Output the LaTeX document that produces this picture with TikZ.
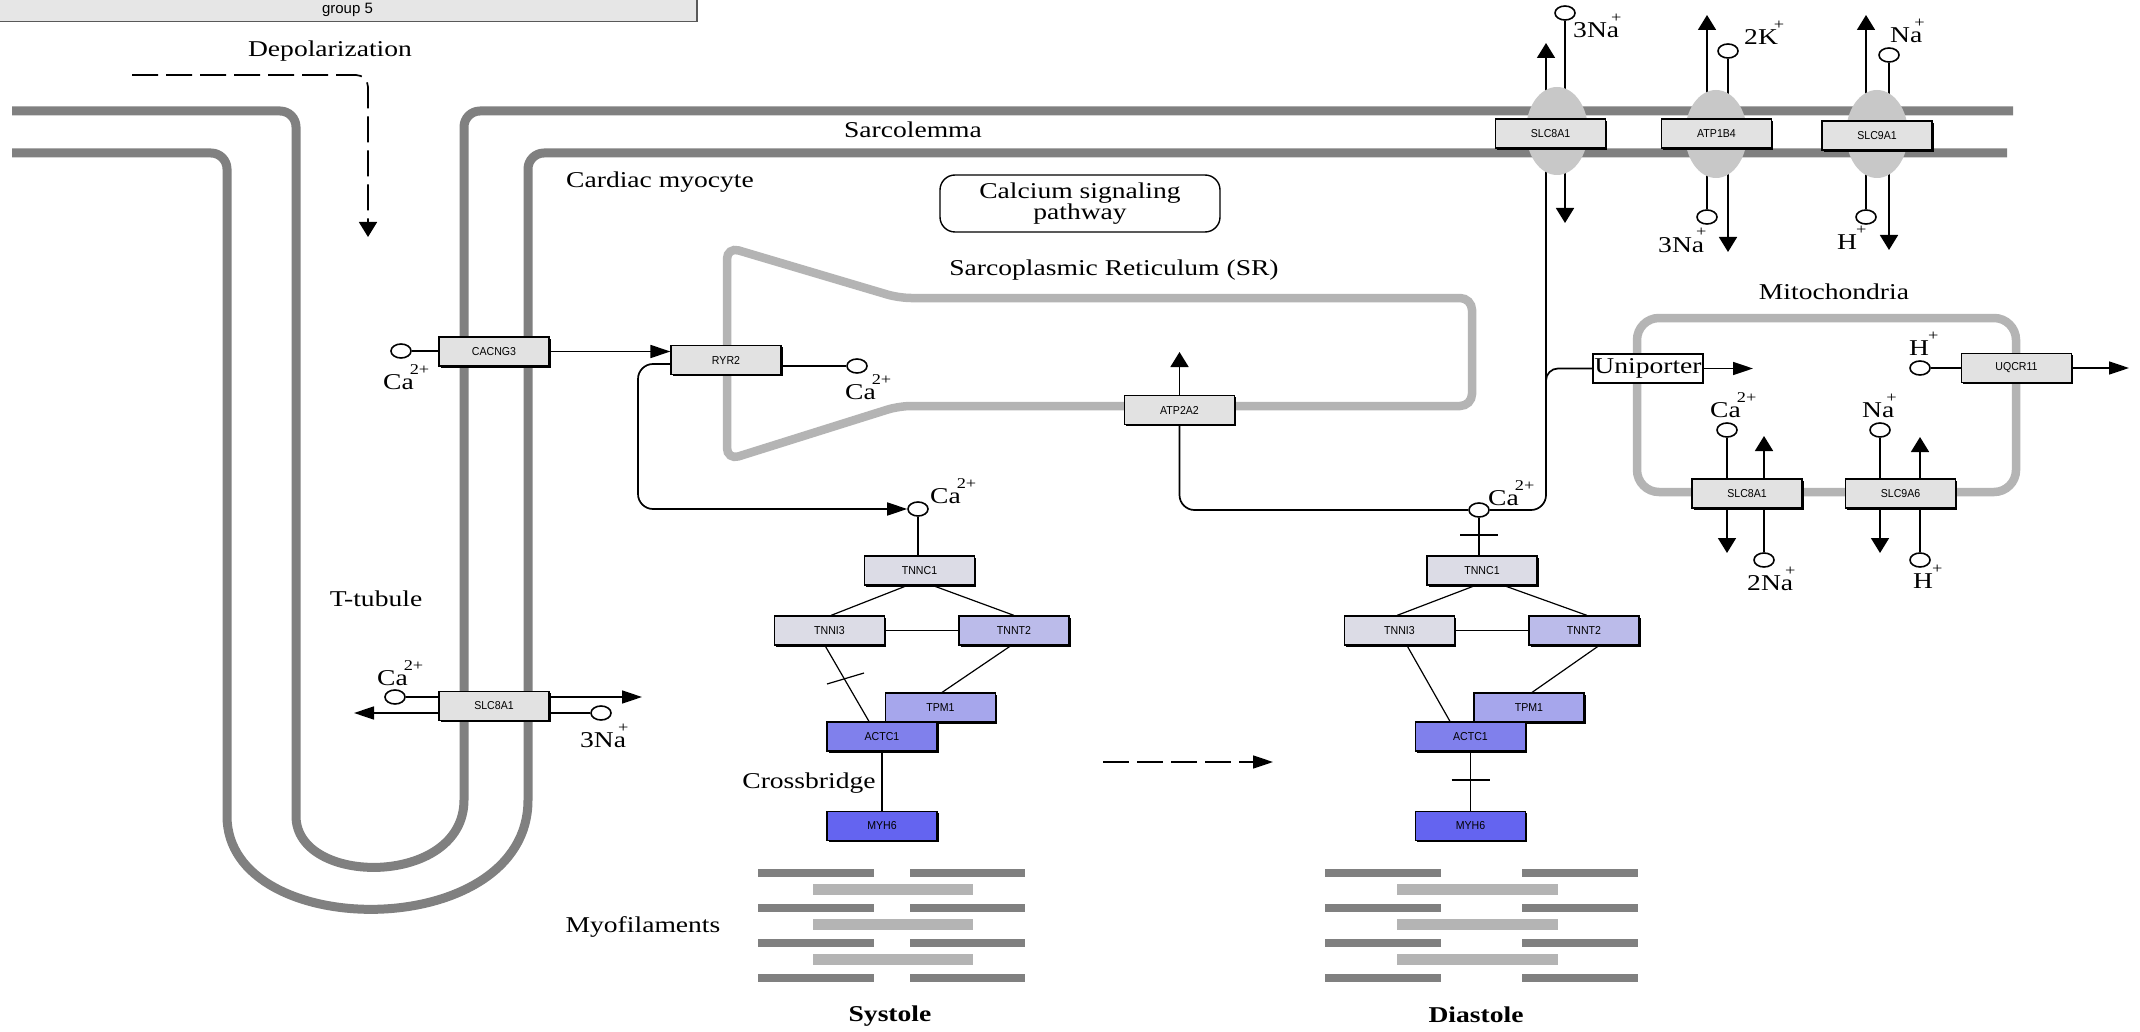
\documentclass[tikz,border=0pt]{standalone}
\usepackage{fontspec}
\setmainfont{Liberation Serif}
\newfontfamily\lblfont[FakeStretch=1.22]{Liberation Serif}
\newfontfamily\genefont[FakeStretch=0.92]{Liberation Sans}
\newfontfamily\hdrfont{Liberation Sans}
\usetikzlibrary{arrows.meta,shapes.geometric,shadows}
\pgfdeclarelayer{bg}
\pgfsetlayers{bg,main}
\definecolor{membr}{HTML}{808080}
\definecolor{srgray}{HTML}{B4B4B4}
\definecolor{ellgray}{HTML}{C8C8C8}
\definecolor{gfill}{HTML}{E2E2E2}
\definecolor{hdrfill}{HTML}{E6E6E6}
\definecolor{cTNNC}{HTML}{DCDCE6}
\definecolor{cTNNT}{HTML}{BBBBEA}
\definecolor{cTPM}{HTML}{A6A6EC}
\definecolor{cACTC}{HTML}{8080EC}
\definecolor{cMYH}{HTML}{6464F0}
\newcommand{\sps}[1]{\raisebox{15pt}{\fontsize{15}{15}\selectfont #1}}
\begin{document}
\begin{tikzpicture}[x=1pt,y=-1pt,
  conn/.style={draw=black,line width=1.7pt},
  tconn/.style={draw=black,line width=1.2pt},
  arrh/.style={-{Triangle[length=20pt,width=13pt]}},
  arrv/.style={-{Triangle[length=15pt,width=18pt]}},
  dashpat/.style={dash pattern=on 26pt off 8pt},
  memb/.style={draw=membr,line width=9pt},
  srline/.style={draw=srgray,line width=8.5pt},
  genebox/.style={draw=black,line width=1.2pt,fill=gfill,minimum width=110pt,minimum height=29pt,inner sep=0pt,
    font=\genefont\fontsize{11.5}{12}\selectfont,
    drop shadow={shadow xshift=1.6pt,shadow yshift=-1.6pt,fill=black,opacity=1}},
  unibox/.style={draw=black,line width=1.3pt,fill=white,minimum width=110pt,minimum height=29pt,inner sep=0pt,
    font=\lblfont\fontsize{22.6}{19}\selectfont},
  memell/.style={ellipse,fill=ellgray,minimum width=62pt,minimum height=88pt,inner sep=0pt},
  ion/.style={ellipse,draw=black,line width=1.6pt,fill=white,minimum width=20pt,minimum height=14pt,inner sep=0pt},
  lbl/.style={inner sep=0pt,font=\lblfont\fontsize{22.6}{19}\selectfont},
  hdr/.style={draw=black!65,line width=1.3pt,fill=hdrfill,minimum width=699pt,minimum height=23.7pt,inner sep=0pt,
    font=\hdrfont\fontsize{15}{15}\selectfont}
]
\begin{pgfonlayer}{bg}
\fill[white] (0,0) rectangle (2140,1032);
\end{pgfonlayer}
\useasboundingbox (0,0) rectangle (2140,1032);

% header
\node[hdr] (grp) at (347.5,9.85) {group 5};

% text labels
\node[lbl,anchor=base] (tDep) at (330,57) {Depolarization};
\node[lbl,anchor=base] (tSarc) at (913,138) {Sarcolemma};
\node[lbl,anchor=base west] (tCard) at (566,188) {Cardiac myocyte};
\node[lbl,anchor=base] (tSR) at (1114,275) {Sarcoplasmic Reticulum (SR)};
\node[lbl,anchor=base] (tMito) at (1834,299) {Mitochondria};
\node[lbl,anchor=base] (tTt) at (376,606) {T-tubule};
\node[lbl,anchor=base] (tCross) at (809,788) {Crossbridge};
\node[lbl,anchor=base] (tMyo) at (643,932) {Myofilaments};
\node[lbl,anchor=base,font=\lblfont\bfseries\fontsize{22.6}{19}\selectfont] (tSys) at (890,1021) {Systole};
\node[lbl,anchor=base,font=\lblfont\bfseries\fontsize{22.6}{19}\selectfont] (tDia) at (1476,1022) {Diastole};
\node[draw=black,line width=1.4pt,rounded corners=15pt,minimum width=280pt,minimum height=57pt,align=center,inner sep=0pt,
  font=\lblfont\fontsize{22.6}{19}\selectfont] (csp) at (1080,203.5) {Calcium signaling\\pathway};

% membrane transporter ellipses
\node[memell] (e1) at (1557,131) {};
\node[memell] (e2) at (1716,134) {};
\node[memell] (e3) at (1877,134) {};

% gene boxes
\node[genebox] (cacng3) at (494,351.5) {CACNG3};
\node[genebox] (ryr2) at (726,360) {RYR2};
\node[genebox] (atp2a2) at (1179.5,410) {ATP2A2};
\node[genebox] (slcT) at (494,706) {SLC8A1};
\node[genebox] (slcM) at (1550.5,133.5) {SLC8A1};
\node[genebox] (atp1b4) at (1716.5,133.5) {ATP1B4};
\node[genebox] (slc9a1) at (1877,135.5) {SLC9A1};
\node[genebox] (uqcr11) at (2016.5,368) {UQCR11};
\node[genebox] (slcMi) at (1747,493.5) {SLC8A1};
\node[genebox] (slc9a6) at (1900.5,493.5) {SLC9A6};
\node[unibox] (uni) at (1648,368.5) {Uniporter};

% systole complex
\node[genebox,fill=cTNNC] (tnncS) at (919.5,570.5) {TNNC1};
\node[genebox,fill=cTNNC] (tnniS) at (829.5,630.5) {TNNI3};
\node[genebox,fill=cTNNT] (tnntS) at (1014,630.5) {TNNT2};
\node[genebox,fill=cTPM] (tpmS) at (940.5,707.5) {TPM1};
\node[genebox,fill=cACTC] (actS) at (882,736.5) {ACTC1};
\node[genebox,fill=cMYH] (myhS) at (882,826) {MYH6};
% diastole complex
\node[genebox,fill=cTNNC] (tnncD) at (1482,570.5) {TNNC1};
\node[genebox,fill=cTNNC] (tnniD) at (1399.5,630.5) {TNNI3};
\node[genebox,fill=cTNNT] (tnntD) at (1584,630.5) {TNNT2};
\node[genebox,fill=cTPM] (tpmD) at (1529,707.5) {TPM1};
\node[genebox,fill=cACTC] (actD) at (1470.5,736.5) {ACTC1};
\node[genebox,fill=cMYH] (myhD) at (1470.5,826) {MYH6};

% ion circles
\node[ion] (cCac) at (401,351) {};
\node[ion] (cRyr) at (857,366) {};
\node[ion] (cSys) at (918,509) {};
\node[ion] (cDia) at (1479,510) {};
\node[ion] (cTtCa) at (395,697) {};
\node[ion] (cTtNa) at (601,713) {};
\node[ion] (cT1) at (1565,13) {};
\node[ion] (cT2) at (1728,51) {};
\node[ion] (cT3) at (1889,55) {};
\node[ion] (cB2) at (1707,217) {};
\node[ion] (cB3) at (1866,217) {};
\node[ion] (cMH) at (1920,368) {};
\node[ion] (cMCa) at (1727,430) {};
\node[ion] (cMNa) at (1880,430) {};
\node[ion] (cM2Na) at (1764,560) {};
\node[ion] (cMH2) at (1920,560) {};

% ion labels
\node[lbl,anchor=base west] (lCac) at (383,389) {Ca\kern-4pt\sps{2+}};
\node[lbl,anchor=base west] (lRyr) at (845,399) {Ca\kern-4pt\sps{2+}};
\node[lbl,anchor=base west] (lSys) at (930,503) {Ca\kern-4pt\sps{2+}};
\node[lbl,anchor=base west] (lDia) at (1488,505) {Ca\kern-4pt\sps{2+}};
\node[lbl,anchor=base west] (lTtCa) at (377,685) {Ca\kern-4pt\sps{2+}};
\node[lbl,anchor=base west] (lTtNa) at (580,747) {3Na\kern-8pt\sps{+}};
\node[lbl,anchor=base west] (lT1) at (1573,38) {3Na\kern-8pt\sps{+}};
\node[lbl,anchor=base west] (lT2) at (1744,45) {2K\kern-4pt\sps{+}};
\node[lbl,anchor=base west] (lT3) at (1890,43) {Na\kern-8pt\sps{+}};
\node[lbl,anchor=base west] (lB2) at (1658,252) {3Na\kern-8pt\sps{+}};
\node[lbl,anchor=base west] (lB3) at (1837,250) {H\kern-1pt\sps{+}};
\node[lbl,anchor=base west] (lMH) at (1909,355) {H\kern-1pt\sps{+}};
\node[lbl,anchor=base west] (lMCa) at (1710,417) {Ca\kern-4pt\sps{2+}};
\node[lbl,anchor=base west] (lMNa) at (1862,417) {Na\kern-8pt\sps{+}};
\node[lbl,anchor=base west] (lM2Na) at (1747,590) {2Na\kern-8pt\sps{+}};
\node[lbl,anchor=base west] (lMH2) at (1913,588) {H\kern-1pt\sps{+}};

% free ends
\coordinate (dep0) at (132,75);
\coordinate (dep1) at (368,237);
\coordinate (dsh0) at (1103,762);
\coordinate (dsh1) at (1273,762);
\coordinate (loopc) at (638,509);
\coordinate (atpup) at (1179.5,352);
\coordinate (brpt) at (1546,392);
\coordinate (unitip) at (1753,368.5);
\coordinate (uqtip) at (2129,368);
\coordinate (t1up) at (1546,43);
\coordinate (t1dn) at (1565,223);
\coordinate (t2up) at (1707,15);
\coordinate (t2dn) at (1728,252);
\coordinate (t3up) at (1866,15);
\coordinate (t3dn) at (1889,250);
\coordinate (mup1) at (1764,436);
\coordinate (mdn1) at (1727,553);
\coordinate (mup2) at (1920,437);
\coordinate (mdn2) at (1880,553);
\coordinate (ttl) at (354,713);
\coordinate (ttr) at (642,697);
\coordinate (barS1) at (827,684);
\coordinate (barS2) at (864,673);
\coordinate (barD1) at (1460,535);
\coordinate (barD2) at (1498,535);
\coordinate (barD3) at (1451.5,780);
\coordinate (barD4) at (1489.5,780);

% myofilaments
\foreach \yy in {873,908,943,978}{
  \fill[membr] (758,\yy-4) rectangle (874,\yy+4);
  \fill[membr] (910,\yy-4) rectangle (1025,\yy+4);
  \fill[membr] (1325,\yy-4) rectangle (1441,\yy+4);
  \fill[membr] (1522,\yy-4) rectangle (1638,\yy+4);
}
\foreach \yy in {889,924,959}{
  \fill[srgray] (813,\yy-5.5) rectangle (973,\yy+5.5);
  \fill[srgray] (1397,\yy-5.5) rectangle (1558,\yy+5.5);
}

\begin{pgfonlayer}{bg}
% membranes
\draw[memb] (12,111) [rounded corners=16pt] -| (296,800) [sharp corners] .. controls (296,887) and (464,887) .. (464,800) [rounded corners=16pt] |- (2013,111);
\draw[memb] (12,153) [rounded corners=16pt] -| (227,800) [sharp corners] .. controls (227,943) and (528,943) .. (528,800) [rounded corners=16pt] |- (2007,153);
% SR
\draw[srline,rounded corners=12pt] (727,350) -- (727,247) -- (899,298) -- (1472,298) -- (1472,406) -- (899,406) -- (727,460) -- cycle;
% mitochondria
\draw[srline,rounded corners=22pt] (1637,318) rectangle (2016,492);

% connectors
\draw[conn,arrv,dashpat,rounded corners=12pt] (dep0) -| (dep1);
\draw[conn,arrh,dashpat] (dsh0) -- (dsh1);
\draw[conn] (cCac) -- (cCac -| cacng3.west);
\draw[conn,arrh] (cacng3.east) -- (cacng3.east -| ryr2.west);
\draw[conn] (ryr2.east |- cRyr) -- (cRyr);
\draw[conn,arrh,rounded corners=15pt] ([yshift=-4pt]ryr2.west) -| (loopc) -- (cSys.west);
\draw[conn,arrv] (atp2a2.north) -- (atpup);
\draw[conn,rounded corners=15pt] (atp2a2.south) |- (cDia.west);
\draw[conn,rounded corners=15pt] (cDia.east) -| (t1up |- e1);
\draw[conn,rounded corners=12pt] (brpt) |- (uni.west);
\draw[conn,arrh] (uni.east) -- (unitip);
\draw[conn] (cMH) -- (cMH -| uqcr11.west);
\draw[conn,arrh] (uqcr11.east) -- (uqtip);
% sarcolemma transporters
\draw[conn,arrv] (t1up |- e1) -- (t1up);
\draw[conn] (cT1 |- e1) -- (cT1);
\draw[conn,arrv] (t1dn |- e1) -- (t1dn);
\draw[conn,arrv] (t2up |- e2) -- (t2up);
\draw[conn] (cT2 |- e2) -- (cT2);
\draw[conn] (cB2 |- e2) -- (cB2);
\draw[conn,arrv] (t2dn |- e2) -- (t2dn);
\draw[conn,arrv] (t3up |- e3) -- (t3up);
\draw[conn] (cT3 |- e3) -- (cT3);
\draw[conn] (cB3 |- e3) -- (cB3);
\draw[conn,arrv] (t3dn |- e3) -- (t3dn);
% mitochondrial exchangers
\draw[conn] (slcMi.north -| cMCa) -- (cMCa);
\draw[conn,arrv] (slcMi.north -| mup1) -- (mup1);
\draw[conn,arrv] (slcMi.south -| mdn1) -- (mdn1);
\draw[conn] (slcMi.south -| cM2Na) -- (cM2Na);
\draw[conn] (slc9a6.north -| cMNa) -- (cMNa);
\draw[conn,arrv] (slc9a6.north -| mup2) -- (mup2);
\draw[conn,arrv] (slc9a6.south -| mdn2) -- (mdn2);
\draw[conn] (slc9a6.south -| cMH2) -- (cMH2);
% T-tubule exchanger
\draw[conn] (cTtCa) -- (cTtCa -| slcT.west);
\draw[conn,arrh] (slcT.west |- ttl) -- (ttl);
\draw[conn,arrh] (slcT.east |- ttr) -- (ttr);
\draw[conn] (slcT.east |- cTtNa) -- (cTtNa);
% systole
\draw[conn] (cSys) -- (cSys |- tnncS.north);
\draw[tconn] ([xshift=-12.5pt]tnncS.south) -- ([xshift=1.5pt]tnniS.north);
\draw[tconn] ([xshift=13.5pt]tnncS.south) -- (tnntS.north);
\draw[tconn] (tnniS) -- (tnntS);
\draw[tconn] ([xshift=-3pt]tnntS.south) -- ([xshift=1.5pt]tpmS.north);
\draw[tconn] ([xshift=-4.5pt]tnniS.south) -- ([xshift=-13pt]actS.north);
\draw[tconn] (barS1) -- (barS2);
\draw[conn] (actS) -- (myhS);
% diastole
\draw[conn] (cDia) -- (cDia |- tnncD.north);
\draw[conn] (barD1) -- (barD2);
\draw[tconn] ([xshift=-7pt]tnncD.south) -- ([xshift=-2.5pt]tnniD.north);
\draw[tconn] ([xshift=22pt]tnncD.south) -- ([xshift=3pt]tnntD.north);
\draw[tconn] (tnniD) -- (tnntD);
\draw[tconn] ([xshift=15pt]tnntD.south) -- ([xshift=3pt]tpmD.north);
\draw[tconn] ([xshift=7.5pt]tnniD.south) -- ([xshift=-20.5pt]actD.north);
\draw[conn] (actD) -- (myhD);
\draw[conn] (barD3) -- (barD4);
\end{pgfonlayer}
\end{tikzpicture}
\end{document}
